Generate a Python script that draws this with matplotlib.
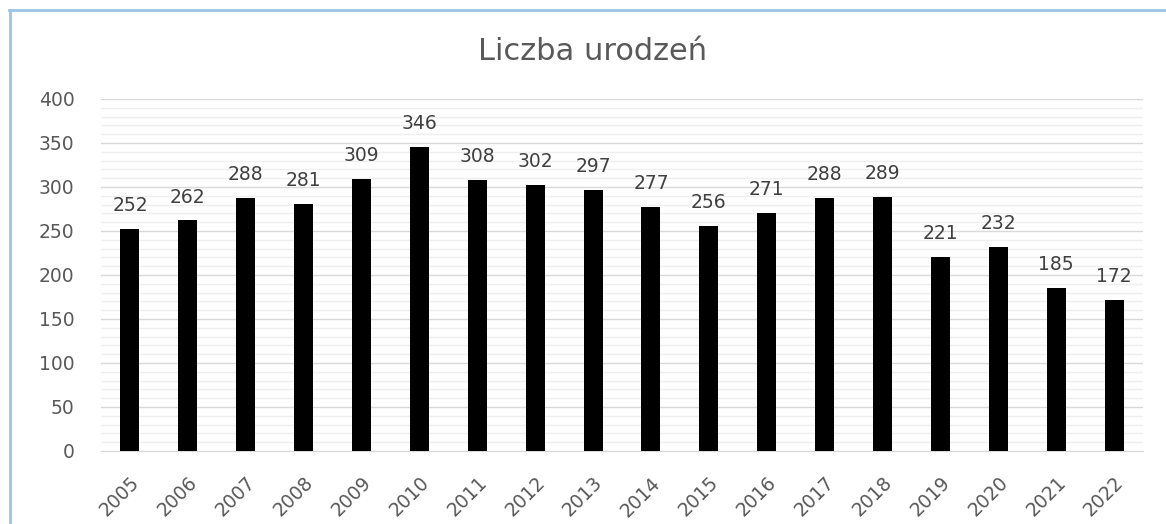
import matplotlib
matplotlib.use("Agg")
import matplotlib.pyplot as plt
from matplotlib.lines import Line2D
from matplotlib.ticker import MultipleLocator

years = ["2005", "2006", "2007", "2008", "2009", "2010", "2011", "2012", "2013",
         "2014", "2015", "2016", "2017", "2018", "2019", "2020", "2021", "2022"]
births = [252, 262, 288, 281, 309, 346, 308, 302, 297, 277, 256, 271, 288, 289,
          221, 232, 185, 172]
title = "Liczba urodzeń"

plt.rcParams['font.family'] = ['DejaVu Sans']

W, H = 1166, 524
fig = plt.figure(figsize=(W / 100, H / 100), dpi=100)
ax = fig.add_axes([101 / W, (H - 451) / H, (1143 - 101) / W, (451 - 99) / H])

x = list(range(len(years)))
ax.bar(x, births, width=0.33, color="black", zorder=3)
ax.set_xlim(-0.5, len(years) - 0.5)
ax.set_ylim(0, 400)
ax.yaxis.set_major_locator(MultipleLocator(50))
ax.yaxis.set_minor_locator(MultipleLocator(10))
ax.grid(axis="y", which="major", color="#d9d9d9", linewidth=1.0, zorder=0)
ax.grid(axis="y", which="minor", color="#efefef", linewidth=1.0, zorder=0)
for s in ["top", "right", "left"]:
    ax.spines[s].set_visible(False)
ax.spines["bottom"].set_color("#d9d9d9")
ax.tick_params(axis="both", which="both", length=0, labelsize=13.5, colors="#595959")
ax.tick_params(axis="y", pad=19)
ax.set_xticks(x)
ax.set_xticklabels(years, rotation=45, ha="right", rotation_mode="anchor")
ax.tick_params(axis="x", pad=16)

for xi, v in zip(x, births):
    ax.annotate(str(v), (xi, v), xytext=(0, 10), textcoords="offset points",
                ha="center", va="bottom", fontsize=13.5, color="#404040")

fig.text(593 / W, (H - 52) / H, title, ha="center", va="center", fontsize=22,
         color="#595959")

fig.add_artist(Line2D([9 / W, 1], [(H - 10) / H, (H - 10) / H], color="#9dc3e6",
                      linewidth=2, transform=fig.transFigure))
fig.add_artist(Line2D([10 / W, 10 / W], [0, (H - 10) / H], color="#9dc3e6",
                      linewidth=2, transform=fig.transFigure))

fig.savefig("out.png", dpi=100, facecolor="white")
